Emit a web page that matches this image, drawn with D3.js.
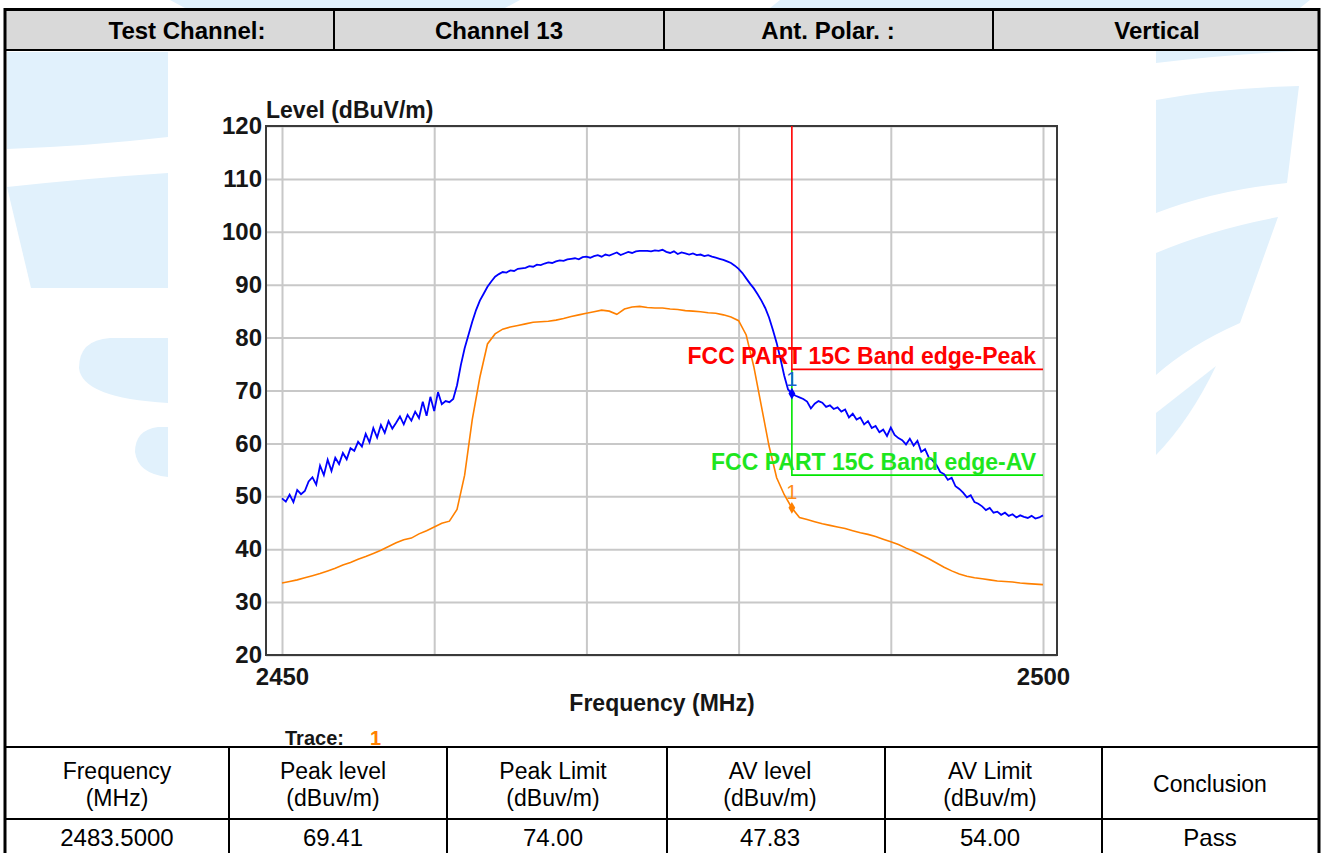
<!DOCTYPE html>
<html><head><meta charset="utf-8">
<script src="https://cdn.jsdelivr.net/npm/d3@7/dist/d3.min.js"></script>
<style>
body{margin:0;background:#fff;}
svg{display:block;font-family:"Liberation Sans",Arial,Helvetica,sans-serif;}
</style>
</head><body>
<svg id="c" width="1328" height="853"></svg>
<script>
// ---------------- data ----------------
const freqStart = 2450, freqEnd = 2500;
const peakStep = 0.25;   // MHz between peak-trace samples
const avStep = 0.5;      // MHz between AV-trace samples
const peakTrace = [
 49.6,49.0,50.3,48.9,51.2,50.4,51.0,52.8,53.6,52.2,
 55.8,54.0,56.9,54.8,57.3,56.1,58.2,57.0,59.1,58.6,
 60.3,59.4,61.8,60.2,62.9,61.1,63.5,62.0,64.2,62.8,
 63.9,65.1,63.6,65.4,64.3,66.0,64.8,67.9,65.2,68.8,
 66.1,69.7,67.4,68.0,67.8,68.4,71.0,74.8,78.0,80.5,
 83.0,85.2,87.0,88.3,89.6,90.6,91.5,92.0,92.4,92.3,
 92.7,92.6,93.0,93.1,93.2,93.5,93.4,93.8,93.7,94.0,
 94.2,94.1,94.4,94.6,94.5,94.8,94.9,95.0,94.8,95.2,
 95.3,95.1,95.4,95.6,95.3,95.7,95.5,95.8,96.1,95.6,
 95.9,96.2,96.0,96.3,96.4,96.4,96.4,96.3,96.5,96.4,
 96.6,96.2,96.0,96.3,95.8,96.1,95.9,95.7,95.9,95.6,
 95.7,95.4,95.6,95.3,95.1,94.9,94.7,94.4,94.1,93.6,
 93.0,92.2,91.2,90.2,89.3,88.2,87.0,85.6,83.8,81.5,
 79.0,76.0,72.8,70.2,69.4,69.0,68.7,68.4,67.9,66.6,
 67.5,68.0,67.7,66.9,67.2,66.5,66.8,66.0,66.4,64.9,
 65.6,64.5,64.9,63.6,64.2,62.9,63.3,62.1,62.6,61.4,
 63.0,61.6,61.0,60.6,59.8,60.9,59.6,60.5,58.4,58.9,
 57.3,56.8,55.9,54.6,54.2,53.1,53.5,51.9,51.4,50.7,
 49.8,50.2,48.9,48.6,48.1,47.4,47.8,46.9,47.1,46.5,
 46.9,46.3,46.6,46.0,46.4,46.1,45.9,46.3,45.8,46.0,
 46.4];
const avTrace = [
 33.6,33.9,34.2,34.6,35.0,35.4,35.9,36.4,37.0,37.5,
 38.1,38.6,39.2,39.8,40.5,41.2,41.8,42.1,42.9,43.5,
 44.2,44.9,45.3,47.5,54.0,64.5,72.5,78.8,80.7,81.6,
 82.0,82.3,82.6,82.9,83.0,83.1,83.3,83.6,84.0,84.3,
 84.6,84.9,85.2,85.0,84.4,85.4,85.8,85.9,85.7,85.6,
 85.6,85.4,85.3,85.1,85.0,84.9,84.7,84.6,84.3,83.9,
 83.2,80.5,74.5,67.0,59.5,53.5,50.3,47.8,46.0,45.6,
 45.2,44.8,44.5,44.2,43.9,43.5,43.1,42.8,42.4,41.9,
 41.4,40.9,40.2,39.6,38.9,38.2,37.4,36.6,35.9,35.3,
 34.9,34.6,34.4,34.2,34.0,33.9,33.8,33.6,33.5,33.4,
 33.3];
const yTicks = [20,30,40,50,60,70,80,90,100,110,120];
const xGridTicks = [2450,2460,2470,2480,2490,2500];
const xTickLabels = [2450,2500];
const limitFreqs = [2483.5,2483.5,2500];
const peakLimit = [120,74,74];
const avLimit = [74,54,54];
const markerFreq = 2483.5, markerPeak = 69.41, markerAv = 47.83;
const peakLimitLabel = "FCC PART 15C Band edge-Peak";
const avLimitLabel = "FCC PART 15C Band edge-AV";
const headerCells = ["Test Channel:","Channel 13","Ant. Polar. :","Vertical"];
const tableHead = [["Frequency","(MHz)"],["Peak level","(dBuv/m)"],["Peak Limit","(dBuv/m)"],["AV level","(dBuv/m)"],["AV Limit","(dBuv/m)"],["Conclusion"]];
const tableRow = ["2483.5000","69.41","74.00","47.83","54.00","Pass"];

// ---------------- drawing ----------------
const svg = d3.select("#c");
const WM = "#e1f1fc";
const INK = "#161616";

// watermark background shapes
const wm = svg.append("g").attr("fill", WM);
[
 "M7,52 L168,52 L168,137 Q90,146 7,149 Z",
 "M7,187 Q90,178 168,173 L168,288 L31,288 Z",
 "M168,338 L110,338 Q79,340 79,368 Q82,398 168,403 Z",
 "M168,427 L158,427 Q135,430 135,452 Q138,474 168,477 Z",
 "M1156,51 L1300,51 Q1230,54 1156,63 Z",
 "M1156,100 Q1220,88 1299,86 L1287,183 Q1215,190 1156,213 Z",
 "M1156,253 Q1210,230 1278,217 L1240,323 Q1190,345 1156,375 Z",
 "M1156,413 L1216,366 Q1190,420 1156,455 Z",
 "M170,0 L520,0 L505,8 L185,8 Z",
 "M780,0 L1310,0 L1300,8 L770,8 Z"
].forEach(d => wm.append("path").attr("d", d));

// chart picture white area
svg.append("rect").attr("x",168).attr("y",51).attr("width",988).attr("height",696).attr("fill","#fff");

// header row
svg.append("rect").attr("x",5).attr("y",9).attr("width",1314).attr("height",41).attr("fill","#d9d9d9");
const headerX = [187, 499, 828, 1157];
headerCells.forEach((t,i) => svg.append("text").attr("x",headerX[i]).attr("y",39)
  .attr("text-anchor","middle").attr("font-weight","bold").attr("font-size",24).attr("fill","#000").text(t));
[334,664,993].forEach(x => svg.append("line").attr("x1",x).attr("x2",x).attr("y1",9).attr("y2",50).attr("stroke","#000").attr("stroke-width",2));
svg.append("line").attr("x1",5).attr("x2",1319).attr("y1",50).attr("y2",50).attr("stroke","#000").attr("stroke-width",2);

// scales
const x = d3.scaleLinear().domain([freqStart,freqEnd]).range([282,1043]);
const y = d3.scaleLinear().domain([20,120]).range([655,126]);
const frame = {l:266, r:1057, t:126, b:655};

const plot = svg.append("g");
// y axis + horizontal grid
const yAxis = plot.append("g").attr("transform",`translate(${frame.l},0)`)
  .call(d3.axisLeft(y).tickValues(yTicks).tickSize(-(frame.r-frame.l)).tickPadding(4).tickFormat(d3.format("d")));
yAxis.select(".domain").remove();
yAxis.selectAll(".tick line").attr("stroke","#c8c8c8").attr("stroke-width",2);
yAxis.selectAll(".tick text").attr("font-size",24).attr("font-weight","bold").attr("fill",INK)
  .attr("font-family","'Liberation Sans',Arial,sans-serif");

// x axis + vertical grid
const xAxis = plot.append("g").attr("transform",`translate(0,${frame.b})`)
  .call(d3.axisBottom(x).tickValues(xGridTicks).tickSize(-(frame.b-frame.t)).tickPadding(13)
    .tickFormat(d => xTickLabels.includes(d) ? d : ""));
xAxis.select(".domain").remove();
xAxis.selectAll(".tick line").attr("stroke","#c8c8c8").attr("stroke-width",2);
xAxis.selectAll(".tick text").attr("font-size",24).attr("font-weight","bold").attr("fill",INK)
  .attr("font-family","'Liberation Sans',Arial,sans-serif");

// frame
plot.append("rect").attr("x",frame.l).attr("y",frame.t).attr("width",frame.r-frame.l).attr("height",frame.b-frame.t)
  .attr("fill","none").attr("stroke","#3a3a3a").attr("stroke-width",2);

// axis titles
plot.append("text").attr("x",266).attr("y",118).attr("font-size",23).attr("font-weight","bold").attr("fill",INK).text("Level (dBuV/m)");
plot.append("text").attr("x",662).attr("y",711).attr("text-anchor","middle").attr("font-size",23).attr("font-weight","bold").attr("fill",INK).text("Frequency (MHz)");

// limit lines
const limLine = d3.line().x(d => x(d[0])).y(d => y(d[1]));
plot.append("path").attr("d", limLine(limitFreqs.map((f,i)=>[f,avLimit[i]]))).attr("fill","none").attr("stroke","#00e600").attr("stroke-width",1.6);
plot.append("path").attr("d", limLine(limitFreqs.map((f,i)=>[f,peakLimit[i]]))).attr("fill","none").attr("stroke","#ff0000").attr("stroke-width",1.6);

// traces
const peakLine = d3.line().x((d,i) => x(freqStart + i*peakStep)).y(d => y(d));
const avLine = d3.line().x((d,i) => x(freqStart + i*avStep)).y(d => y(d));
plot.append("path").attr("d", avLine(avTrace)).attr("fill","none").attr("stroke","#ff8000").attr("stroke-width",1.6);
plot.append("path").attr("d", peakLine(peakTrace)).attr("fill","none").attr("stroke","#0000ff").attr("stroke-width",1.8);

// limit labels
plot.append("text").attr("x",1036).attr("y",364).attr("text-anchor","end").attr("font-size",23).attr("font-weight","bold").attr("fill","#ff0000").text(peakLimitLabel);
plot.append("text").attr("x",1036).attr("y",470).attr("text-anchor","end").attr("font-size",23).attr("font-weight","bold").attr("fill","#1ee61e").text(avLimitLabel);

// markers
const diamond = d3.symbol().type(d3.symbolDiamond).size(40);
plot.append("path").attr("d",diamond()).attr("transform",`translate(${x(markerFreq)},${y(markerPeak)})`).attr("fill","#0000ff");
plot.append("path").attr("d",diamond()).attr("transform",`translate(${x(markerFreq)},${y(markerAv)})`).attr("fill","#ff8000");
plot.append("text").attr("x",x(markerFreq)).attr("y",y(markerPeak)-8).attr("text-anchor","middle").attr("font-size",20).attr("fill","#1a5fd0").text("1");
plot.append("text").attr("x",x(markerFreq)).attr("y",y(markerAv)-9).attr("text-anchor","middle").attr("font-size",20).attr("fill","#ff8c1a").text("1");

// trace legend
plot.append("text").attr("x",285).attr("y",745).attr("font-size",20).attr("font-weight","bold").attr("fill",INK).text("Trace:");
plot.append("text").attr("x",370).attr("y",745).attr("font-size",20).attr("font-weight","bold").attr("fill","#ff8000").text("1");

// bottom table
const colX = [5,229,447,667,885,1102,1320];
const colC = [117,333,553,770,990,1210];
svg.append("line").attr("x1",5).attr("x2",1319).attr("y1",747).attr("y2",747).attr("stroke","#000").attr("stroke-width",2);
svg.append("line").attr("x1",5).attr("x2",1319).attr("y1",819).attr("y2",819).attr("stroke","#000").attr("stroke-width",2);
colX.slice(1,-1).forEach(cx => svg.append("line").attr("x1",cx).attr("x2",cx).attr("y1",747).attr("y2",853).attr("stroke","#000").attr("stroke-width",2));
tableHead.forEach((lines,i) => {
  const ys = lines.length === 2 ? [779,806] : [792];
  lines.forEach((t,j) => svg.append("text").attr("x",colC[i]).attr("y",ys[j]).attr("text-anchor","middle")
    .attr("font-size",23).attr("fill","#000").text(t));
});
tableRow.forEach((t,i) => svg.append("text").attr("x",colC[i]).attr("y",846).attr("text-anchor","middle")
  .attr("font-size",24).attr("fill","#000").text(t));

// outer border
svg.append("line").attr("x1",5).attr("x2",5).attr("y1",8).attr("y2",853).attr("stroke","#000").attr("stroke-width",3);
svg.append("line").attr("x1",1319).attr("x2",1319).attr("y1",8).attr("y2",853).attr("stroke","#000").attr("stroke-width",3);
svg.append("line").attr("x1",4).attr("x2",1320).attr("y1",9.5).attr("y2",9.5).attr("stroke","#000").attr("stroke-width",3);
</script>
</body></html>
